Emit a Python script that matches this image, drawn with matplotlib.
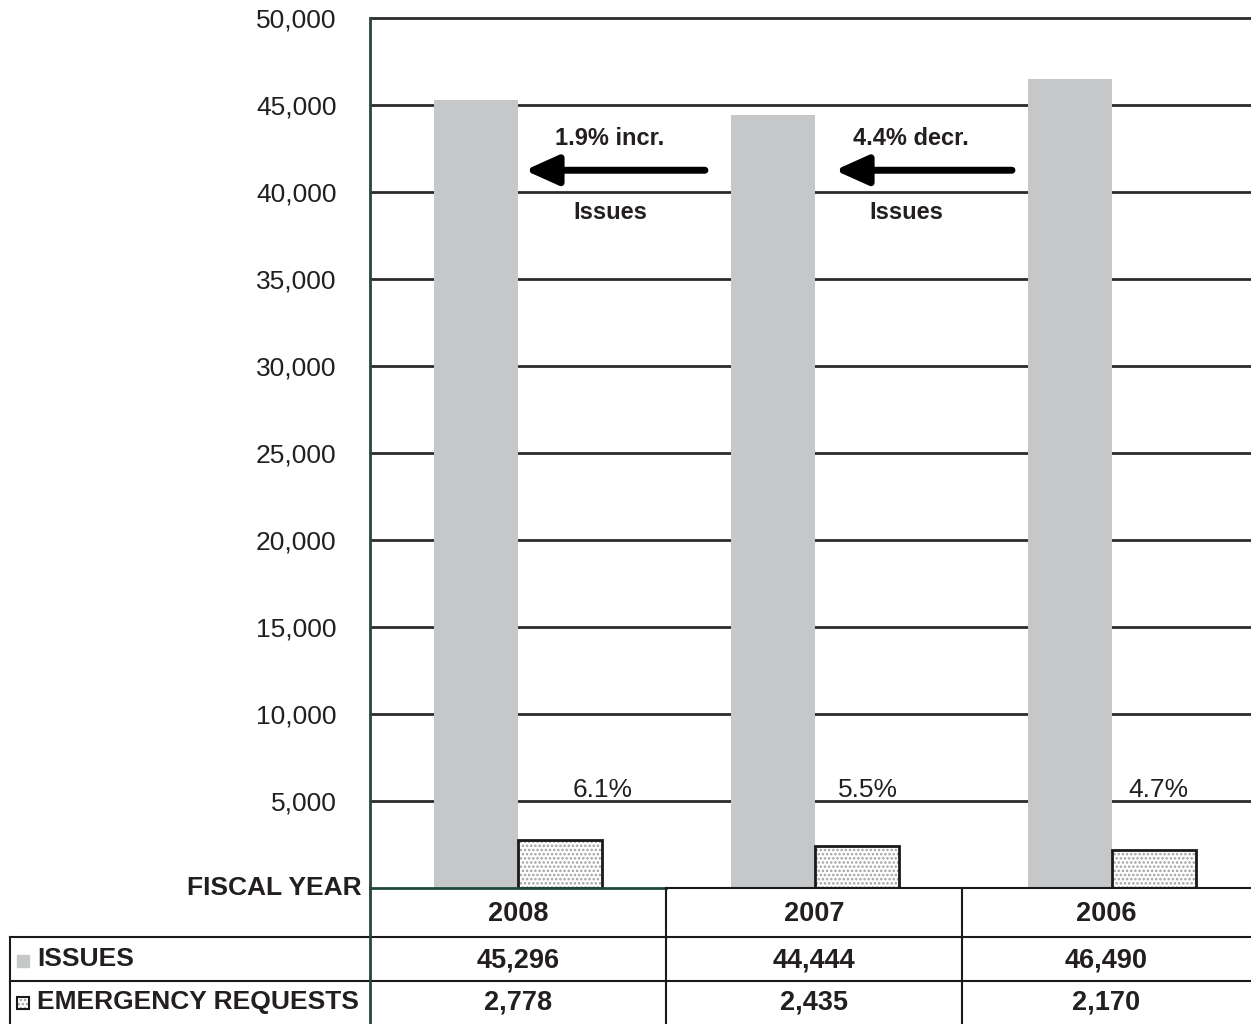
import numpy as np
import matplotlib
matplotlib.use('Agg')
import matplotlib.pyplot as plt
from matplotlib.lines import Line2D
from matplotlib.patches import Rectangle

plt.rcParams['font.family'] = ['Liberation Sans', 'DejaVu Sans']
plt.rcParams['hatch.linewidth'] = 1.2

# data
years = ['2008', '2007', '2006']
issues = [45296, 44444, 46490]
emergency = [2778, 2435, 2170]
pct_labels = ['6.1%', '5.5%', '4.7%']
change_labels = ['1.9% incr.', '4.4% decr.']
row_labels = ['ISSUES', 'EMERGENCY REQUESTS']
yticks = np.arange(5000, 50001, 5000)

W, H = 1251, 1024
fig = plt.figure(figsize=(W / 100, H / 100), dpi=100)
# axes runs a bit past the right edge of the image, like the original
ax = fig.add_axes([370 / W, 1 - 888 / H, 890 / W, (888 - 18) / H])

GREEN = '#1f4a38'
GREY = '#c6c7c9'
TXT = '#231f20'
bw = 0.283
x = np.arange(len(years))

# gridlines
ax.hlines(yticks, -0.5, 2.5, color='#2b2b2b', lw=2, zorder=0, clip_on=False)

ax.bar(x - bw / 2, issues, bw, color=GREY, zorder=2)
ax.bar(x + bw / 2, emergency, bw, color='white', edgecolor='#a0a0a0', hatch='....', lw=0, zorder=2)
ax.bar(x + bw / 2, emergency, bw, fill=False, edgecolor='#1a1a1a', lw=2, zorder=3)

ax.set_xlim(-0.5, 2.5)
ax.set_ylim(0, 50000)
ax.set_xticks([])
ax.set_yticks(yticks)
ax.set_yticklabels([f'{v:,}' for v in yticks], fontsize=19, color=TXT)
ax.tick_params(axis='y', length=0, pad=24)
for s in ['top', 'right', 'bottom']:
    ax.spines[s].set_visible(False)
ax.spines['left'].set_color(GREEN)
ax.spines['left'].set_linewidth(2)

# percentage labels over emergency bars
pct_off = [0.285, 0.179, 0.156]
for i, lab in enumerate(pct_labels):
    ax.text(x[i] + pct_off[i], 5250, lab, ha='center', va='baseline', fontsize=19, color=TXT)

# change arrows between years
arrow_spans = [(0.629, 0.022), (1.664, 1.067)]
text_x = [0.309, 1.323]
issue_x = [0.309, 1.307]
for i, lab in enumerate(change_labels):
    x0, x1 = arrow_spans[i]
    ax.annotate('', xy=(x1, 41250), xytext=(x0, 41250),
                arrowprops=dict(arrowstyle='-|>,head_length=1.0,head_width=0.45',
                                lw=5, color='black', mutation_scale=20, shrinkA=0, shrinkB=0))
    ax.text(text_x[i], 43100, lab, ha='center', va='center', fontsize=17, fontweight='bold', color=TXT)
    ax.text(issue_x[i], 38850, 'Issues', ha='center', va='center', fontsize=17, fontweight='bold', color=TXT)


# table below the chart, laid out in pixel coords
def fx(px):
    return px / W


def fy(py):
    return 1 - py / H


def hline(y, xa, xb, c='#1a1a1a', lw=1.5):
    fig.add_artist(Line2D([fx(xa), fx(xb)], [fy(y), fy(y)], color=c, lw=lw))


def vline(xp, ya, yb, c='#1a1a1a', lw=1.5):
    fig.add_artist(Line2D([fx(xp), fx(xp)], [fy(ya), fy(yb)], color=c, lw=lw))


hline(888, 370, 666, c=GREEN, lw=2)
hline(888, 666, W, lw=1.5)
hline(937, 10, W)
hline(981, 10, W)
vline(10, 937, H)
vline(666, 888, H)
vline(962, 888, H)
vline(370, 888, H, c=GREEN, lw=2)

TS = 19.5
LS = 19
fig.text(fx(362), fy(888), 'FISCAL YEAR', ha='right', va='center', fontsize=LS, fontweight='bold', color=TXT)

col_x = [518, 814, 1106]
for i in range(len(years)):
    fig.text(fx(col_x[i]), fy(914), years[i], ha='center', va='center', fontsize=TS, fontweight='bold', color=TXT)
    fig.text(fx(col_x[i]), fy(960), f'{issues[i]:,}', ha='center', va='center', fontsize=TS, fontweight='bold', color=TXT)
    fig.text(fx(col_x[i]), fy(1003), f'{emergency[i]:,}', ha='center', va='center', fontsize=TS, fontweight='bold', color=TXT)

fig.text(fx(37), fy(959), row_labels[0], ha='left', va='center', fontsize=LS, fontweight='bold', color=TXT)
fig.text(fx(37), fy(1002), row_labels[1], ha='left', va='center', fontsize=LS, fontweight='bold', color=TXT)

fig.add_artist(Rectangle((fx(17), fy(967)), fx(12), 12 / H, color=GREY, transform=fig.transFigure))
fig.add_artist(Rectangle((fx(17), fy(1009)), fx(12), 12 / H, facecolor='white', edgecolor='#a0a0a0',
                         hatch='....', lw=0, transform=fig.transFigure))
fig.add_artist(Rectangle((fx(17), fy(1009)), fx(12), 12 / H, fill=False, edgecolor='#1a1a1a',
                         lw=1.5, transform=fig.transFigure))

fig.savefig('out.png', dpi=100)
